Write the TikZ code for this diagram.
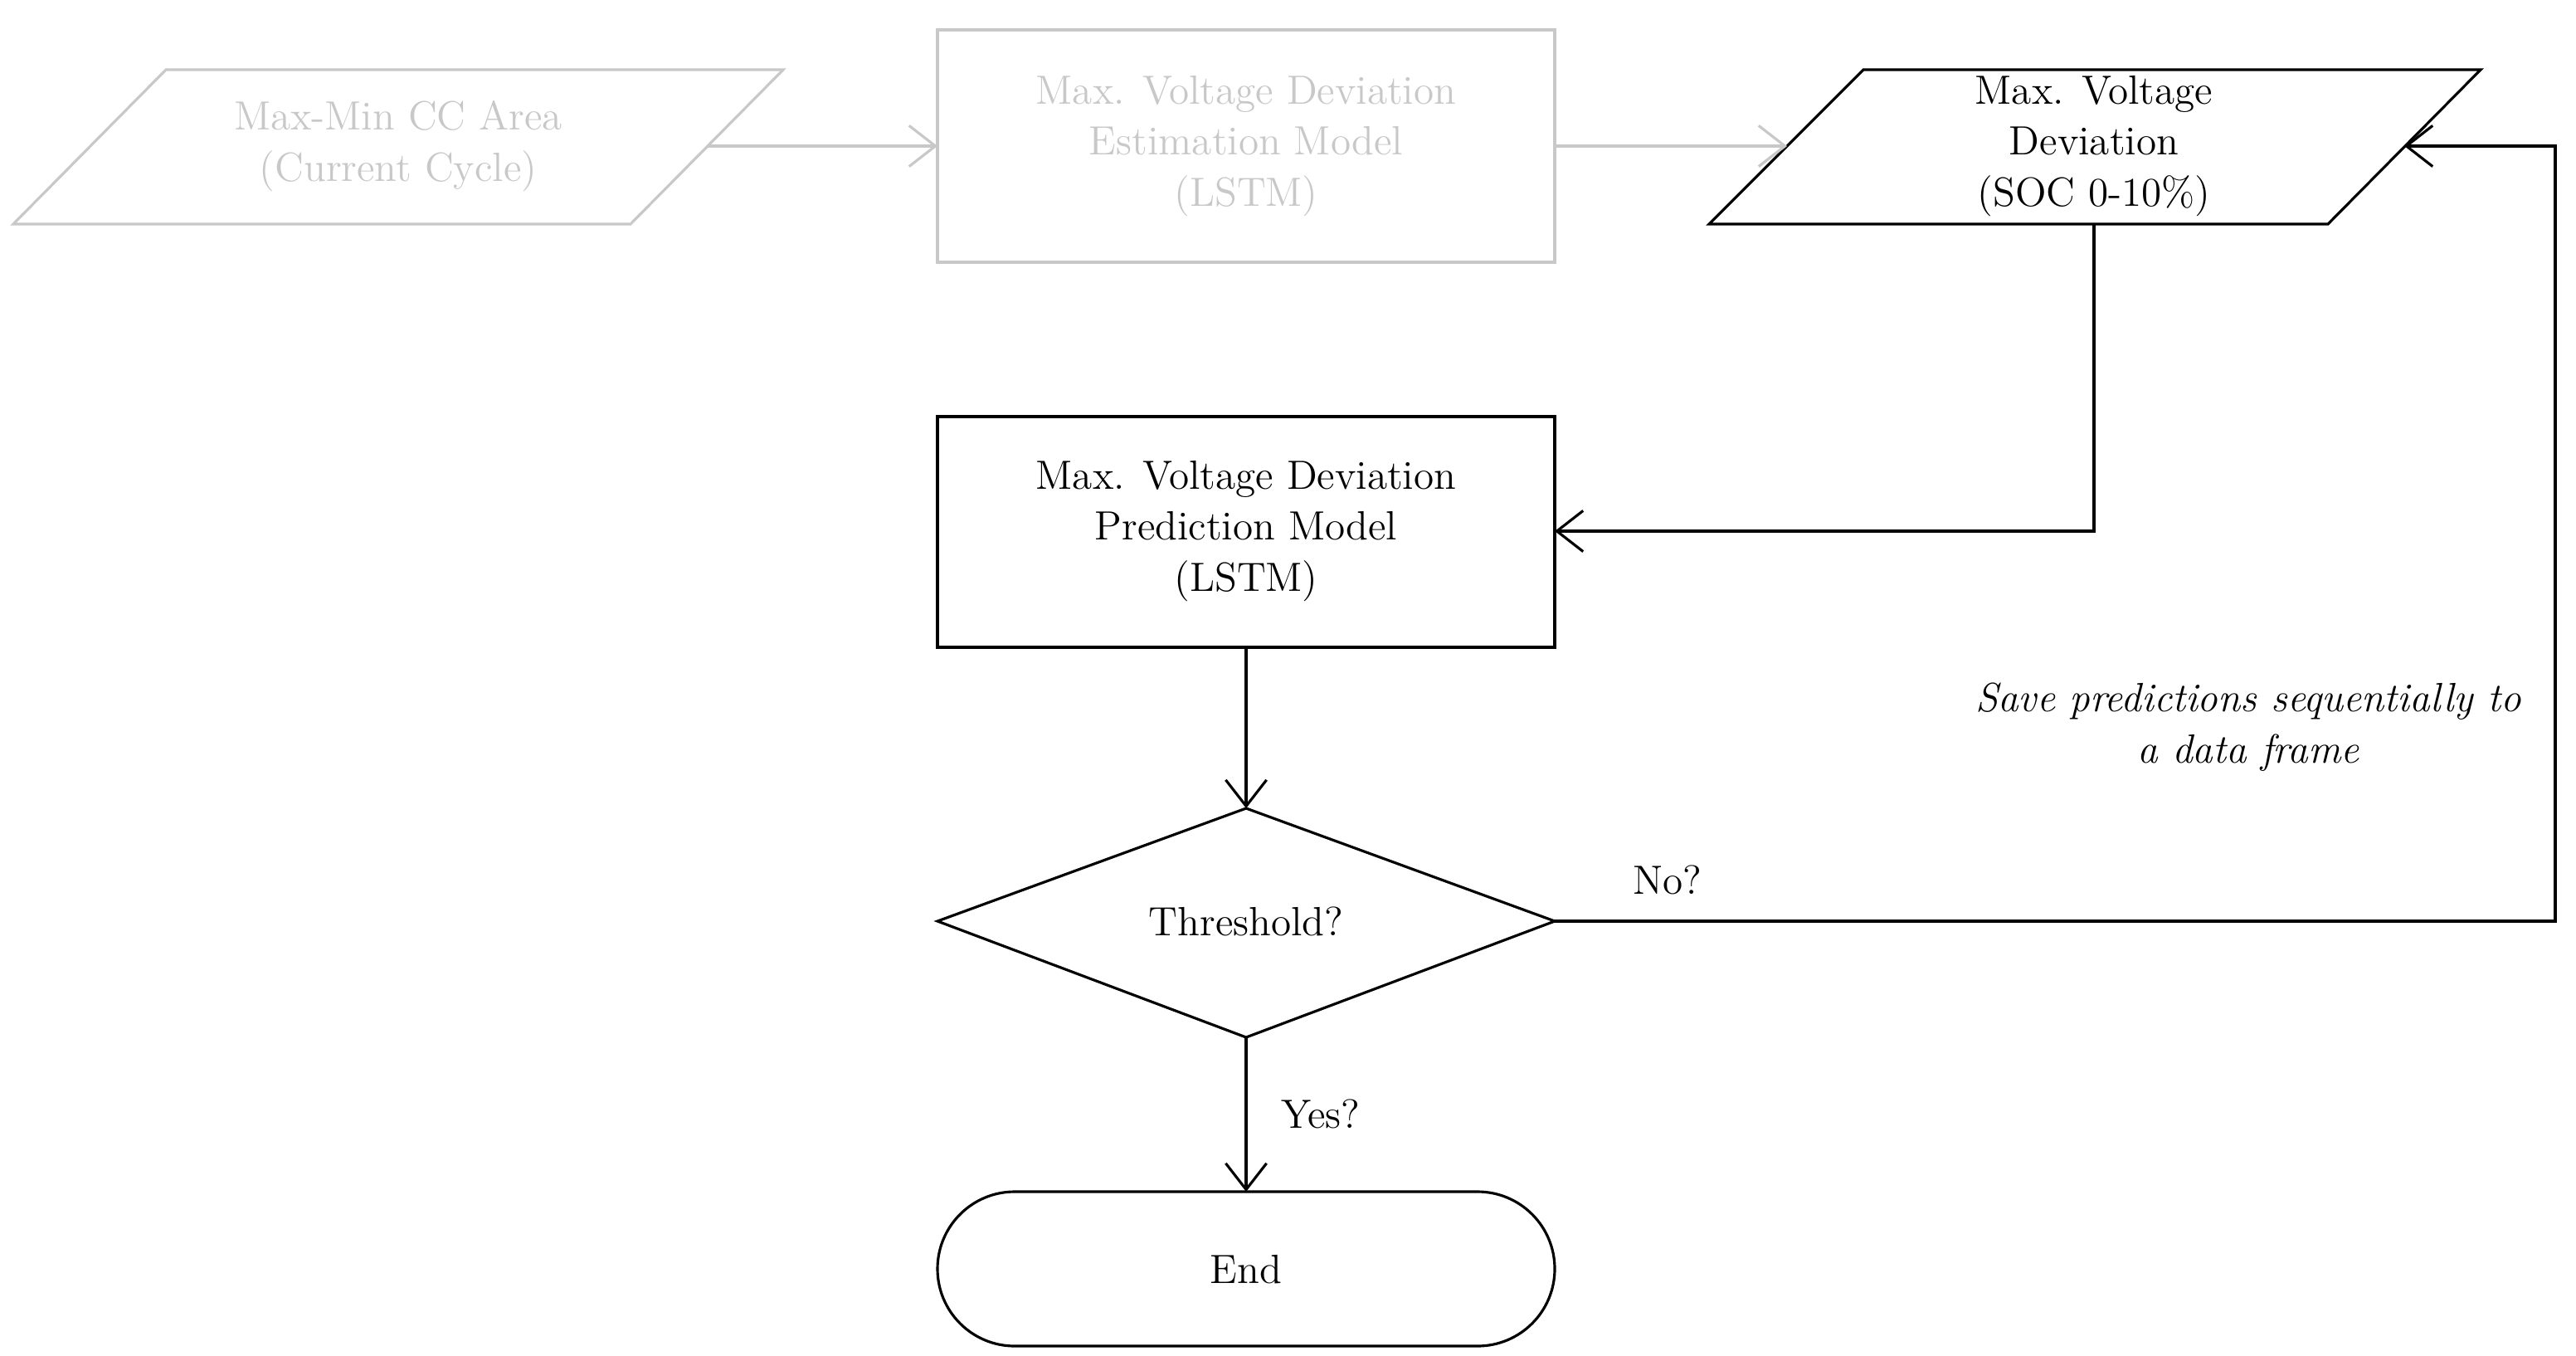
\documentclass[tikz,border=0pt]{standalone}
\usetikzlibrary{arrows.meta,shapes.geometric}
\definecolor{lg}{RGB}{200,200,200}
\begin{document}
\begin{tikzpicture}[x=0.02cm,y=-0.02cm,
  every node/.style={font=\fontsize{14}{17.6}\selectfont,align=center},
  ln/.style={line width=0.9pt},
  arr/.style={ln,-{Straight Barb[length=9pt,width=14pt]}},
  grey/.style={draw=lg,text=lg}]
\useasboundingbox (0,0) rectangle (1552.5,816.5);
% parallelogram 1 (gray)
\draw[ln,lg] (8,135)--(100,42)--(472,42)--(380,135)--cycle;
\node[text=lg] (p1) at (240,88) {Max-Min CC Area\\(Current Cycle)};
\coordinate (p1r) at (426,88);
% rect 2
\draw[ln,lg] (565,18) rectangle (937,158);
\node[text=lg] (r2) at (751,88) {Max. Voltage Deviation\\Estimation Model\\(LSTM)};
\coordinate (r2l) at (565,88); \coordinate (r2r) at (937,88);
% parallelogram 3
\draw[ln] (1030,135)--(1123,42)--(1495,42)--(1403,135)--cycle;
\node (p3) at (1262,88) {Max. Voltage\\Deviation\\(SOC 0-10\%)};
\coordinate (p3l) at (1077,88); \coordinate (p3r) at (1449,88);
\coordinate (p3b) at (1262,135);
% rect 4
\draw[ln] (565,251) rectangle (937,390);
\node (r4) at (751,320) {Max. Voltage Deviation\\Prediction Model\\(LSTM)};
\coordinate (r4r) at (937,320); \coordinate (r4b) at (751,390);
% diamond
\draw[ln] (565,555)--(751,487)--(937,555)--(751,625)--cycle;
\node (d) at (751,555) {Threshold?};
\coordinate (dt) at (751,487); \coordinate (dr) at (937,555); \coordinate (db) at (751,625);
% end
\draw[ln,rounded corners=46.5*0.02cm] (565,718) rectangle (937,811);
\node (e) at (751,765) {End};
\coordinate (et) at (751,718);
% connectors
\draw[arr,lg] (p1r) -- (r2l);
\draw[arr,lg] (r2r) -- (p3l);
\draw[arr] (p3b) |- (r4r);
\draw[arr] (r4b) -- (dt);
\draw[arr] (dr) -- (1540,555) |- (p3r);
\draw[arr] (db) -- (et);
\node (no) at (1005,530) {No?};
\node (yes) at (796,671) {Yes?};
\node[font=\fontsize{14}{17.6}\selectfont\itshape] (sv) at (1355,438) {Save predictions sequentially to\\a data frame};
\end{tikzpicture}
\end{document}
